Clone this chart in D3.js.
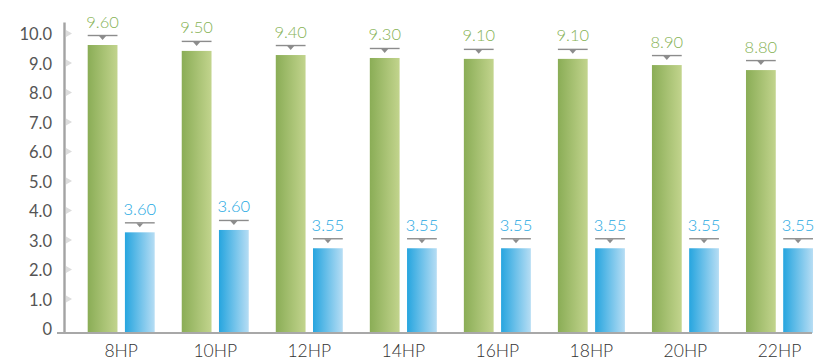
<!DOCTYPE html>
<html><head><meta charset="utf-8">
<script src="https://cdn.jsdelivr.net/npm/d3@7"></script>
<style>html,body{margin:0;padding:0;background:#fff;}svg{display:block;}</style>
</head><body>
<svg id="c" width="840" height="364"></svg>
<script>
const categories = ["8HP","10HP","12HP","14HP","16HP","18HP","20HP","22HP"];
const greenValues = [9.61, 9.41, 9.27, 9.17, 9.14, 9.14, 8.93, 8.76];
const blueValues = [3.26, 3.34, 2.72, 2.72, 2.72, 2.72, 2.72, 2.72];
const greenLabels = ["9.60","9.50","9.40","9.30","9.10","9.10","8.90","8.80"];
const blueLabels = ["3.60","3.60","3.55","3.55","3.55","3.55","3.55","3.55"];
const yTicks = [0,1,2,3,4,5,6,7,8,9,10];

const svg = d3.select("#c");
const y = d3.scaleLinear().domain([0,10]).range([328.5,33.5]);
const x = d3.scaleBand().domain(categories).range([87.7, 87.7+8*94.04]).padding(0);
const sub = d3.scaleBand().domain(["g","b"]).range([0,67]).paddingInner(0.2);
const baseY = y(0) + 4.5;
const FONT = "Lato, sans-serif";

const defs = svg.append("defs");
function grad(id, c1, c2){
  const g = defs.append("linearGradient").attr("id",id).attr("x1","0%").attr("x2","100%").attr("y1","0%").attr("y2","0%");
  g.append("stop").attr("offset","0%").attr("stop-color",c1);
  g.append("stop").attr("offset","100%").attr("stop-color",c2);
}
grad("gg","#8aad56","#c2d48d");
grad("gb","#26a5df","#b6ddf4");

// y axis ticks & labels
const yAxis = svg.append("g");
yAxis.selectAll("text").data(yTicks).join("text")
  .attr("x",52).attr("y",d=>y(d)+2.5).attr("text-anchor","end").attr("dominant-baseline","middle")
  .attr("font-family",FONT).attr("font-weight",400).attr("font-size",16.5).attr("fill","#555")
  .text(d=> d===0 ? "0" : d.toFixed(1));
yAxis.selectAll("path.tri").data(yTicks.filter(d=>d>0)).join("path").attr("class","tri")
  .attr("d",d=>`M66,${y(d)-3.5}L72,${y(d)}L66,${y(d)+3.5}Z`).attr("fill","#dcdcdc");
svg.append("line").attr("x1",64.5).attr("x2",64.5).attr("y1",22.5).attr("y2",baseY+1)
  .attr("stroke","#a3a3a3").attr("stroke-width",2.4);

function series(vals, labels, key, fillId, textColor){
  const g = svg.append("g");
  g.selectAll("rect").data(vals).join("rect")
    .attr("x",(d,i)=>x(categories[i])+sub(key)).attr("width",sub.bandwidth())
    .attr("y",d=>y(d)).attr("height",d=>baseY-y(d)).attr("fill",`url(#${fillId})`);
  g.selectAll("line").data(vals).join("line")
    .attr("x1",(d,i)=>x(categories[i])+sub(key)).attr("x2",(d,i)=>x(categories[i])+sub(key)+sub.bandwidth())
    .attr("y1",d=>y(d)-9.5).attr("y2",d=>y(d)-9.5).attr("stroke","#8c8c8c").attr("stroke-width",1.4);
  g.selectAll("path").data(vals).join("path")
    .attr("d",(d,i)=>{const cx=x(categories[i])+sub(key)+sub.bandwidth()/2, yy=y(d)-9;return `M${cx-3.5},${yy}L${cx+3.5},${yy}L${cx},${yy+4}Z`;})
    .attr("fill","#8c8c8c");
  g.selectAll("text").data(vals).join("text")
    .attr("x",(d,i)=>x(categories[i])+sub(key)+sub.bandwidth()/2).attr("y",d=>y(d)-17.5)
    .attr("text-anchor","middle").attr("font-family",FONT).attr("font-weight",300).attr("font-size",16.5)
    .attr("fill",textColor).text((d,i)=>labels[i]);
}
series(greenValues, greenLabels, "g", "gg", "#86b255");
series(blueValues, blueLabels, "b", "gb", "#25a8e2");

// x axis
svg.append("line").attr("x1",57).attr("x2",812).attr("y1",baseY).attr("y2",baseY)
  .attr("stroke","#a8a8a8").attr("stroke-width",2);
svg.append("g").selectAll("text").data(categories).join("text")
  .attr("x",d=>x(d)+33.5).attr("y",357).attr("text-anchor","middle")
  .attr("font-family",FONT).attr("font-weight",300).attr("font-size",17.5).attr("fill","#333").text(d=>d);
</script>
</body></html>
